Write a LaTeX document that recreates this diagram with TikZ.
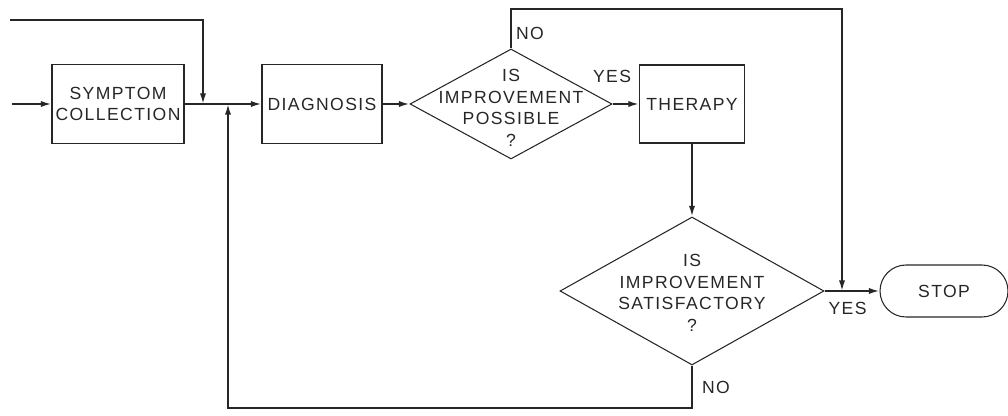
\documentclass[tikz,border=0pt]{standalone}
\usepackage{fontspec}
\setmainfont{Liberation Sans}[LetterSpace=8]
\usetikzlibrary{shapes.geometric,arrows.meta}

\begin{document}
\begin{tikzpicture}[
    line width=1pt, black!85,
    >={Latex[length=6pt,width=3.5pt]},
    every node/.style={font=\fontsize{10}{12.2}\selectfont, align=center},
    box/.style={draw, line width=0.6pt, inner sep=0pt},
    decision/.style={draw, diamond, line width=0.6pt, inner sep=0pt},
    stopbox/.style={draw, line width=0.6pt, rounded corners=0.52cm,
        minimum width=2.56cm, minimum height=1.04cm}
]
    \useasboundingbox (0,0) rectangle (20.16,8.32);

    \node[box, minimum width=2.64cm, minimum height=1.58cm] (symptom) at (2.36,6.24) {SYMPTOM\\COLLECTION};
    \node[box, minimum width=2.4cm, minimum height=1.58cm] (diagnosis) at (6.44,6.24) {DIAGNOSIS};
    \node[decision, minimum width=4.04cm, minimum height=2.2cm] (possible) at (10.22,6.24) {};
    \node (possibletext) at (10.22,6.16) {IS\\IMPROVEMENT\\POSSIBLE\\?};
    \node[box, minimum width=2.1cm, minimum height=1.56cm] (therapy) at (13.84,6.24) {THERAPY};
    \node[decision, minimum width=5.28cm, minimum height=2.96cm] (satisfactory) at (13.84,2.5) {};
    \node (satisfactorytext) at (13.84,2.46) {IS\\IMPROVEMENT\\SATISFACTORY\\?};
    \node[stopbox] (stop) at (18.88,2.5) {STOP};

    \node (nopossible) at (10.6,7.66) {NO};
    \node (yespossible) at (12.24,6.8) {YES};
    \node (yessatisfactory) at (16.95,2.16) {YES};
    \node (nosatisfactory) at (14.32,0.58) {NO};

    \coordinate (in) at (0.24,6.24);
    \coordinate (feed) at (0.2,7.92);
    \coordinate (jointop) at (4.06,6.24);
    \coordinate (joinbottom) at (4.56,6.24);
    \coordinate (noturn) at (16.84,8.14);
    \coordinate (joinstop) at (16.84,2.5);
    \coordinate (back) at (4.56,0.16);

    \draw[->] (in) -- (symptom);
    \draw[->] (symptom) -- (diagnosis);
    \draw[->] (feed) -| (jointop);
    \draw[->] (diagnosis) -- (possible);
    \draw[->] (possible) -- (therapy);
    \draw[->] (therapy) -- (satisfactory);
    \draw[->] (satisfactory) -- (stop);
    \draw[->] (possible.north) |- (noturn) -- (joinstop);
    \draw[->] (satisfactory.south) |- (back) -- (joinbottom);
\end{tikzpicture}
\end{document}
